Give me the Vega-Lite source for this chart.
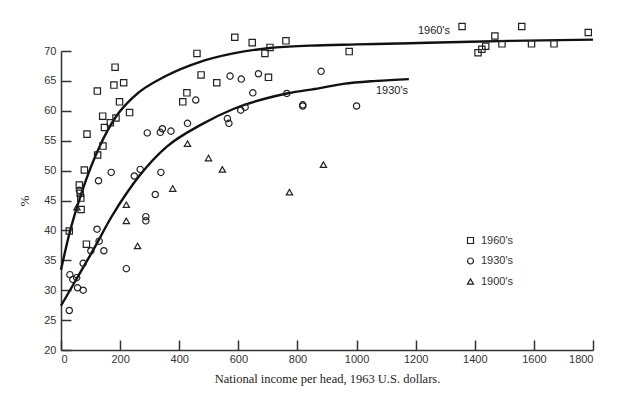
{
  "$schema": "https://vega.github.io/schema/vega-lite/v6.json",
  "width": 532,
  "height": 299,
  "autosize": {"type": "none"},
  "padding": {"left": 61, "top": 51, "right": 44, "bottom": 43},
  "background": "white",
  "config": {
    "view": {"stroke": null},
    "axis": {
      "grid": false,
      "domainColor": "#333",
      "domainWidth": 1.5,
      "tickColor": "#333",
      "tickWidth": 1.5,
      "tickSize": -10,
      "labelFont": "Liberation Sans",
      "labelFontSize": 11,
      "labelColor": "#333",
      "labelOverlap": false,
      "titleFontWeight": "normal",
      "titleColor": "#222"
    }
  },
  "datasets": {
    "points": [
      {"income": 588, "pct": 72.3, "period": "1960's"},
      {"income": 647, "pct": 71.4, "period": "1960's"},
      {"income": 761, "pct": 71.7, "period": "1960's"},
      {"income": 707, "pct": 70.6, "period": "1960's"},
      {"income": 690, "pct": 69.6, "period": "1960's"},
      {"income": 460, "pct": 69.6, "period": "1960's"},
      {"income": 474, "pct": 66.0, "period": "1960's"},
      {"income": 527, "pct": 64.7, "period": "1960's"},
      {"income": 702, "pct": 65.6, "period": "1960's"},
      {"income": 426, "pct": 63.0, "period": "1960's"},
      {"income": 412, "pct": 61.5, "period": "1960's"},
      {"income": 183, "pct": 67.3, "period": "1960's"},
      {"income": 179, "pct": 64.3, "period": "1960's"},
      {"income": 212, "pct": 64.7, "period": "1960's"},
      {"income": 123, "pct": 63.3, "period": "1960's"},
      {"income": 198, "pct": 61.5, "period": "1960's"},
      {"income": 232, "pct": 59.7, "period": "1960's"},
      {"income": 141, "pct": 59.1, "period": "1960's"},
      {"income": 186, "pct": 58.8, "period": "1960's"},
      {"income": 167, "pct": 58.0, "period": "1960's"},
      {"income": 147, "pct": 57.2, "period": "1960's"},
      {"income": 88, "pct": 56.1, "period": "1960's"},
      {"income": 142, "pct": 54.1, "period": "1960's"},
      {"income": 124, "pct": 52.6, "period": "1960's"},
      {"income": 79, "pct": 50.1, "period": "1960's"},
      {"income": 62, "pct": 47.6, "period": "1960's"},
      {"income": 65, "pct": 46.2, "period": "1960's"},
      {"income": 67, "pct": 45.4, "period": "1960's"},
      {"income": 68, "pct": 43.5, "period": "1960's"},
      {"income": 28, "pct": 39.9, "period": "1960's"},
      {"income": 86, "pct": 37.7, "period": "1960's"},
      {"income": 975, "pct": 69.9, "period": "1960's"},
      {"income": 1357, "pct": 74.1, "period": "1960's"},
      {"income": 1559, "pct": 74.1, "period": "1960's"},
      {"income": 1784, "pct": 73.1, "period": "1960's"},
      {"income": 1468, "pct": 72.5, "period": "1960's"},
      {"income": 1492, "pct": 71.2, "period": "1960's"},
      {"income": 1592, "pct": 71.2, "period": "1960's"},
      {"income": 1668, "pct": 71.2, "period": "1960's"},
      {"income": 1437, "pct": 70.8, "period": "1960's"},
      {"income": 1424, "pct": 70.3, "period": "1960's"},
      {"income": 1411, "pct": 69.7, "period": "1960's"},
      {"income": 292, "pct": 56.3, "period": "1930's"},
      {"income": 336, "pct": 56.4, "period": "1930's"},
      {"income": 343, "pct": 57.0, "period": "1930's"},
      {"income": 372, "pct": 56.6, "period": "1930's"},
      {"income": 428, "pct": 57.9, "period": "1930's"},
      {"income": 456, "pct": 61.8, "period": "1930's"},
      {"income": 572, "pct": 65.8, "period": "1930's"},
      {"income": 610, "pct": 65.3, "period": "1930's"},
      {"income": 668, "pct": 66.2, "period": "1930's"},
      {"income": 649, "pct": 63.0, "period": "1930's"},
      {"income": 764, "pct": 62.9, "period": "1930's"},
      {"income": 563, "pct": 58.7, "period": "1930's"},
      {"income": 568, "pct": 57.9, "period": "1930's"},
      {"income": 608, "pct": 60.1, "period": "1930's"},
      {"income": 623, "pct": 60.6, "period": "1930's"},
      {"income": 818, "pct": 61.0, "period": "1930's"},
      {"income": 818, "pct": 60.8, "period": "1930's"},
      {"income": 880, "pct": 66.6, "period": "1930's"},
      {"income": 1000, "pct": 60.8, "period": "1930's"},
      {"income": 170, "pct": 49.7, "period": "1930's"},
      {"income": 127, "pct": 48.3, "period": "1930's"},
      {"income": 248, "pct": 49.1, "period": "1930's"},
      {"income": 268, "pct": 50.2, "period": "1930's"},
      {"income": 338, "pct": 49.7, "period": "1930's"},
      {"income": 319, "pct": 46.0, "period": "1930's"},
      {"income": 62, "pct": 46.7, "period": "1930's"},
      {"income": 122, "pct": 40.2, "period": "1930's"},
      {"income": 129, "pct": 38.2, "period": "1930's"},
      {"income": 101, "pct": 36.6, "period": "1930's"},
      {"income": 145, "pct": 36.6, "period": "1930's"},
      {"income": 75, "pct": 34.5, "period": "1930's"},
      {"income": 221, "pct": 33.6, "period": "1930's"},
      {"income": 30, "pct": 32.6, "period": "1930's"},
      {"income": 53, "pct": 32.1, "period": "1930's"},
      {"income": 40, "pct": 31.8, "period": "1930's"},
      {"income": 56, "pct": 30.4, "period": "1930's"},
      {"income": 75, "pct": 30.0, "period": "1930's"},
      {"income": 28, "pct": 26.6, "period": "1930's"},
      {"income": 287, "pct": 42.3, "period": "1930's"},
      {"income": 287, "pct": 41.6, "period": "1930's"},
      {"income": 428, "pct": 54.5, "period": "1900's"},
      {"income": 499, "pct": 52.1, "period": "1900's"},
      {"income": 546, "pct": 50.2, "period": "1900's"},
      {"income": 378, "pct": 47.0, "period": "1900's"},
      {"income": 773, "pct": 46.4, "period": "1900's"},
      {"income": 888, "pct": 51.0, "period": "1900's"},
      {"income": 221, "pct": 44.3, "period": "1900's"},
      {"income": 221, "pct": 41.6, "period": "1900's"},
      {"income": 259, "pct": 37.4, "period": "1900's"},
      {"income": 54, "pct": 43.9, "period": "1900's"}
    ],
    "curves": [
      {"income": 0, "pct": 33.4, "period": "1960's"},
      {"income": 28, "pct": 39.4, "period": "1960's"},
      {"income": 71, "pct": 46.5, "period": "1960's"},
      {"income": 133, "pct": 54.3, "period": "1960's"},
      {"income": 183, "pct": 58.8, "period": "1960's"},
      {"income": 245, "pct": 62.3, "period": "1960's"},
      {"income": 358, "pct": 65.9, "period": "1960's"},
      {"income": 471, "pct": 68.2, "period": "1960's"},
      {"income": 583, "pct": 69.6, "period": "1960's"},
      {"income": 707, "pct": 70.5, "period": "1960's"},
      {"income": 843, "pct": 70.9, "period": "1960's"},
      {"income": 1000, "pct": 71.1, "period": "1960's"},
      {"income": 1181, "pct": 71.3, "period": "1960's"},
      {"income": 1350, "pct": 71.5, "period": "1960's"},
      {"income": 1519, "pct": 71.7, "period": "1960's"},
      {"income": 1800, "pct": 71.9, "period": "1960's"},
      {"income": 0, "pct": 27.4, "period": "1930's"},
      {"income": 54, "pct": 32.0, "period": "1930's"},
      {"income": 111, "pct": 36.9, "period": "1930's"},
      {"income": 170, "pct": 42.2, "period": "1930's"},
      {"income": 223, "pct": 46.3, "period": "1930's"},
      {"income": 268, "pct": 49.3, "period": "1930's"},
      {"income": 358, "pct": 54.0, "period": "1930's"},
      {"income": 471, "pct": 57.6, "period": "1930's"},
      {"income": 583, "pct": 60.3, "period": "1930's"},
      {"income": 696, "pct": 62.1, "period": "1930's"},
      {"income": 764, "pct": 62.9, "period": "1930's"},
      {"income": 876, "pct": 63.8, "period": "1930's"},
      {"income": 955, "pct": 64.5, "period": "1930's"},
      {"income": 1068, "pct": 65.0, "period": "1930's"},
      {"income": 1177, "pct": 65.3, "period": "1930's"}
    ],
    "curveLabels": [
      {"income": 1262, "pct": 73.3, "label": "1960's"},
      {"income": 1120, "pct": 63.3, "label": "1930's"}
    ]
  },
  "encoding": {
    "x": {
      "field": "income", "type": "quantitative",
      "scale": {"domain": [0, 1800], "nice": false, "zero": false},
      "axis": {
        "values": [0, 200, 400, 600, 800, 1000, 1200, 1400, 1600, 1800],
        "format": "d",
        "title": "National income per head, 1963 U.S. dollars.",
        "titleFont": "Liberation Serif",
        "titleFontSize": 12.5,
        "titlePadding": 8,
        "labelPadding": 13
      }
    },
    "y": {
      "field": "pct", "type": "quantitative",
      "scale": {"domain": [20, 70], "nice": false, "zero": false},
      "axis": {
        "values": [20, 25, 30, 35, 40, 45, 50, 55, 60, 65, 70],
        "title": "%",
        "titleFont": "Liberation Serif",
        "titleFontSize": 13,
        "titlePadding": 12,
        "labelPadding": 15
      }
    }
  },
  "layer": [
    {
      "data": {"name": "curves"},
      "mark": {"type": "line", "color": "#111", "strokeWidth": 2.4, "interpolate": "monotone"},
      "encoding": {
        "detail": {"field": "period"}
      }
    },
    {
      "data": {"name": "points"},
      "mark": {"type": "point", "filled": false, "color": "#222", "strokeWidth": 1.2, "opacity": 1, "size": 40},
      "encoding": {
        "shape": {
          "field": "period", "type": "nominal",
          "scale": {"domain": ["1960's", "1930's", "1900's"], "range": ["square", "circle", "triangle-up"]},
          "legend": {
            "title": null,
            "orient": "none",
            "legendX": 404,
            "legendY": 184,
            "padding": 0,
            "rowPadding": 8.5,
            "labelOffset": 5,
            "labelFont": "Liberation Sans",
            "labelFontSize": 11,
            "labelColor": "#333",
            "symbolStrokeColor": "#222",
            "symbolStrokeWidth": 1.2,
            "symbolFillColor": "transparent",
            "symbolSize": 36
          }
        }
      }
    },
    {
      "data": {"name": "curveLabels"},
      "mark": {"type": "text", "font": "Liberation Sans", "fontSize": 11, "color": "#222"},
      "encoding": {
        "text": {"field": "label"}
      }
    }
  ]
}
